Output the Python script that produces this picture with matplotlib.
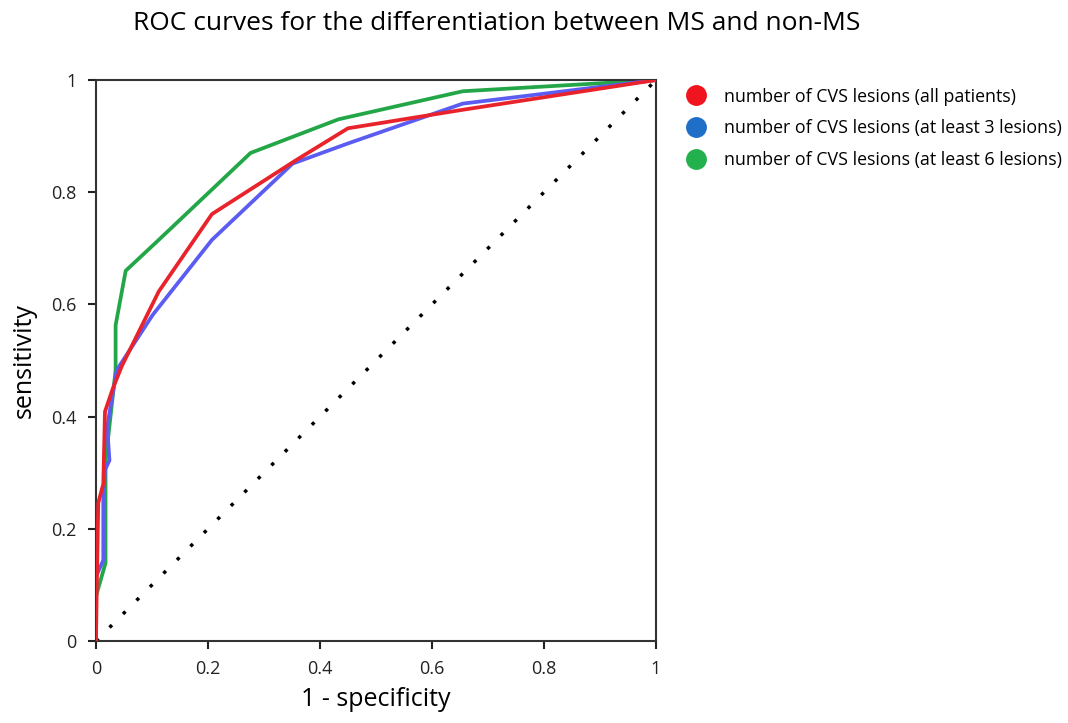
import numpy as np
import matplotlib.pyplot as plt
from matplotlib.lines import Line2D

plt.rcParams['font.family'] = ['Open Sans', 'DejaVu Sans']

# ROC points (1 - specificity, sensitivity)
fpr_all = [0.0, 0.001, 0.004, 0.013, 0.016, 0.030, 0.046, 0.112, 0.207, 0.357, 0.450, 0.655, 1.0]
tpr_all = [0.0, 0.073, 0.246, 0.280, 0.409, 0.450, 0.490, 0.623, 0.761, 0.857, 0.914, 0.947, 1.0]

fpr_3 = [0.0, 0.0, 0.013, 0.013, 0.016, 0.024, 0.020, 0.023, 0.037, 0.101, 0.207, 0.351, 0.450, 0.655, 1.0]
tpr_3 = [0.0, 0.115, 0.144, 0.250, 0.305, 0.322, 0.380, 0.400, 0.483, 0.581, 0.715, 0.851, 0.887, 0.958, 1.0]

fpr_6 = [0.0, 0.0, 0.017, 0.017, 0.035, 0.035, 0.053, 0.112, 0.276, 0.433, 0.655, 1.0]
tpr_6 = [0.0, 0.080, 0.139, 0.320, 0.483, 0.563, 0.660, 0.715, 0.870, 0.930, 0.980, 1.0]

labels = ["number of CVS lesions (all patients)",
          "number of CVS lesions (at least 3 lesions)",
          "number of CVS lesions (at least 6 lesions)"]
ticks = [0, 0.2, 0.4, 0.6, 0.8, 1]
tick_labels = ["0", "0.2", "0.4", "0.6", "0.8", "1"]

line_colors = ['#e8232b', '#5b5cf2', '#23a648']
marker_colors = ['#f0141e', '#1f6fc8', '#23b14d']

fig = plt.figure(figsize=(10.68, 7.23), dpi=100)
ax = fig.add_axes([0.0899, 0.1134, 0.5243, 0.7759])

ax.plot([0, 1], [0, 1], color='black', lw=2.5, linestyle=(0, (1, 4.5)), zorder=1)
ax.plot(fpr_6, tpr_6, color=line_colors[2], lw=2.7, zorder=2)
ax.plot(fpr_3, tpr_3, color=line_colors[1], lw=2.7, zorder=3)
ax.plot(fpr_all, tpr_all, color=line_colors[0], lw=2.7, zorder=4)

ax.set_xlim(0, 1)
ax.set_ylim(0, 1)
ax.set_xticks(ticks)
ax.set_xticklabels(tick_labels)
ax.set_yticks(ticks)
ax.set_yticklabels(tick_labels)
ax.tick_params(direction='out', length=6, width=1.5, labelsize=13, colors='#222222', pad=8)
for s in ax.spines.values():
    s.set_linewidth(1.5)
    s.set_color('#333333')

ax.set_xlabel("1 - specificity", fontsize=18, labelpad=6)
ax.set_ylabel("sensitivity", fontsize=18, labelpad=10)
fig.text(0.465, 0.968, "ROC curves for the differentiation between MS and non-MS",
         ha='center', va='center', fontsize=19)

handles = [Line2D([], [], linestyle='none', marker='o', markersize=14,
                  markerfacecolor=c, markeredgecolor=c) for c in marker_colors]
fig.legend(handles, labels, loc='upper left', bbox_to_anchor=(0.62, 0.901),
           frameon=False, fontsize=12.8, handletextpad=0.6, labelspacing=0.78)

fig.savefig("out.png", dpi=100)
